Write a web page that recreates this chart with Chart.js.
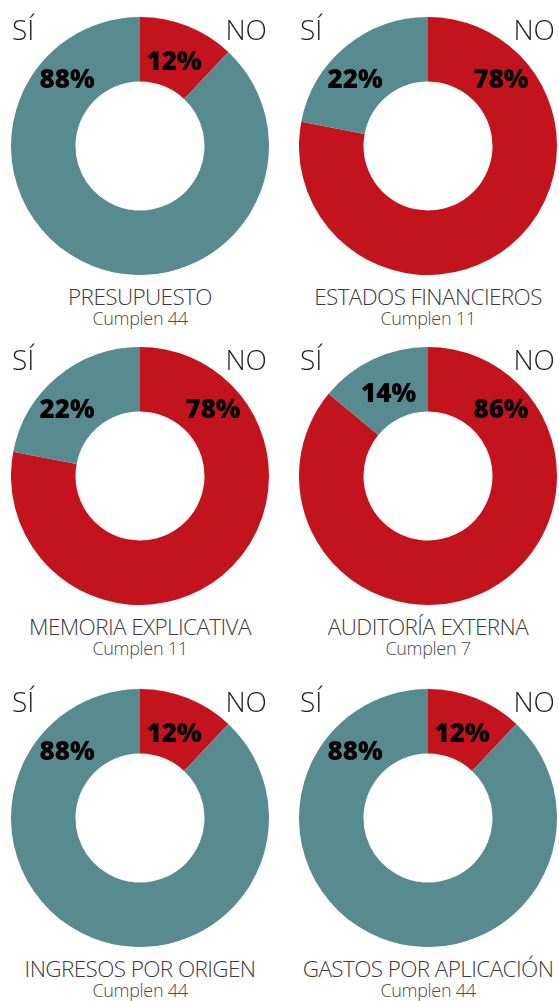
<!DOCTYPE html>
<html>
<head>
<meta charset="utf-8">
<script src="https://cdn.jsdelivr.net/npm/chart.js@4"></script>
<style>
  html,body{margin:0;padding:0;background:#fff;}
  body{width:559px;height:1001px;position:relative;overflow:hidden;font-family:"Open Sans",sans-serif;}
  .cell{position:absolute;width:258px;height:258px;}
  .cell canvas{position:absolute;left:0;top:0;}
  .yn{position:absolute;font-family:"Open Sans",sans-serif;font-weight:300;font-size:28px;color:#1e1e1e;line-height:1;}
  .title{position:absolute;width:290px;text-align:center;font-weight:300;font-size:22.5px;letter-spacing:-0.6px;color:#3a3a3a;line-height:1;white-space:nowrap;}
  .sub{position:absolute;width:290px;text-align:center;font-weight:300;font-size:18px;letter-spacing:-0.3px;color:#4a4a4a;line-height:1;white-space:nowrap;}
</style>
</head>
<body>
<script>
const categories = ["PRESUPUESTO","ESTADOS FINANCIEROS","MEMORIA EXPLICATIVA","AUDITORÍA EXTERNA","INGRESOS POR ORIGEN","GASTOS POR APLICACIÓN"];
const siValues = [88,22,22,14,88,88];
const noValues = [12,78,78,86,12,12];
const cumplen = [44,11,11,7,44,44];
const sliceLabels = ["NO","SÍ"];
const colors = {no:"#c3131c", si:"#578b90"};

const centersX = [140,428];
const centersY = [145.5,476.3,817.8];

const pctPlugin = {
  id:"pct",
  afterDatasetsDraw(chart){
    const ctx = chart.ctx;
    const meta = chart.getDatasetMeta(0);
    const vals = chart.data.datasets[0].data;
    ctx.save();
    ctx.font = "800 26px 'Open Sans'";
    ctx.fillStyle = "#000";
    ctx.textAlign = "center";
    ctx.textBaseline = "middle";
    meta.data.forEach((arc,i)=>{
      const p = arc.getProps(["x","y","startAngle","endAngle","outerRadius","innerRadius"],true);
      let a, r;
      if (vals[i] < 20){
        a = (p.startAngle+p.endAngle)/2;
        r = (p.outerRadius+p.innerRadius)/2 - 4;
      } else {
        const deg = 47*Math.PI/180;
        a = (i===0) ? -Math.PI/2 + deg : -Math.PI/2 - deg;
        r = (p.outerRadius+p.innerRadius)/2 + 3;
      }
      ctx.fillText(vals[i]+"%", p.x + r*Math.cos(a), p.y + r*Math.sin(a)+3);
    });
    ctx.restore();
  }
};

categories.forEach((cat,k)=>{
  const col = k%2, row = Math.floor(k/2);
  const cx = centersX[col], cy = centersY[row];
  const cell = document.createElement("div");
  cell.className = "cell";
  cell.style.left = (cx-129)+"px";
  cell.style.top = (cy-129)+"px";
  const cv = document.createElement("canvas");
  cv.width = 258; cv.height = 258;
  cell.appendChild(cv);
  document.body.appendChild(cell);

  const si = document.createElement("div");
  si.className = "yn"; si.textContent = "SÍ";
  si.style.left = (cx-128)+"px"; si.style.top = (cy-131)+"px";
  document.body.appendChild(si);
  const no = document.createElement("div");
  no.className = "yn"; no.textContent = "NO";
  no.style.left = (cx+70)+"px"; no.style.top = (cy-131)+"px";
  no.style.width = "57px"; no.style.textAlign="right";
  document.body.appendChild(no);

  const t = document.createElement("div");
  t.className = "title"; t.textContent = cat;
  t.style.left = (cx-145)+"px"; t.style.top = (cy+140)+"px";
  document.body.appendChild(t);
  const s = document.createElement("div");
  s.className = "sub"; s.textContent = "Cumplen " + cumplen[k];
  s.style.left = (cx-145)+"px"; s.style.top = (cy+163)+"px";
  document.body.appendChild(s);

  new Chart(cv, {
    type:"doughnut",
    data:{
      labels: sliceLabels,
      datasets:[{
        data:[noValues[k], siValues[k]],
        backgroundColor:[colors.no, colors.si],
        borderWidth:0,
        hoverOffset:0
      }]
    },
    options:{
      responsive:false,
      animation:false,
      cutout:"50%",
      rotation:0,
      layout:{padding:0},
      plugins:{legend:{display:false}, tooltip:{enabled:false}},
      events:[]
    },
    plugins:[pctPlugin]
  });
});
</script>
</body>
</html>
